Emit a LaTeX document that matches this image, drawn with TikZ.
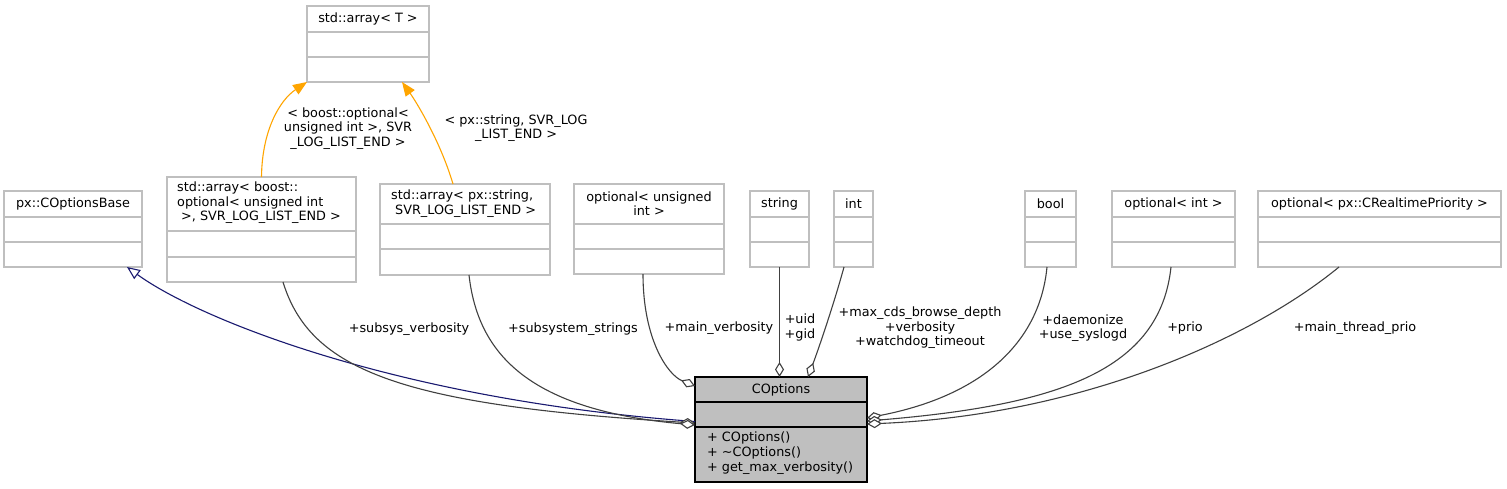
\documentclass[tikz,border=0pt]{standalone}
\usepackage{fontspec}
\setmainfont{DejaVu Sans}
\usetikzlibrary{arrows.meta}
\definecolor{boxgray}{HTML}{BFBFBF}
\definecolor{edgegray}{HTML}{404040}
\definecolor{navyblue}{HTML}{191970}
\definecolor{tmplorange}{HTML}{FFA500}
\newcommand\fsz{\fontsize{12.8}{14.5}\selectfont}
\newcommand\umlclass[8]{%
  \node[#8, minimum width=#4pt, minimum height=#5pt] (#1) at (#2,#3) {};
  \draw[#8] (#1.north west) ++(0,#6) -- ++(#4,0);
  \draw[#8] (#1.north west) ++(0,#7) -- ++(#4,0);
}
\begin{document}
\begin{tikzpicture}[x=1pt,y=-1pt,
  cls/.style={draw=boxgray, fill=white, line width=1.3pt, rectangle, inner sep=0pt, outer sep=0pt},
  mainc/.style={draw=black, fill=boxgray, line width=1.3pt, rectangle, inner sep=0pt, outer sep=0pt},
  ttl/.style={inner sep=0pt, font=\fsz},
  lbl/.style={inner sep=0pt, font=\fsz, align=center},
  agg/.style={draw=edgegray, line width=1.1pt, -{Diamond[length=15pt,width=9pt,fill=white]}},
  inh/.style={draw=navyblue, line width=1.1pt, -{Triangle[length=13pt,width=11pt,fill=white]}},
  tmpl/.style={draw=tmplorange, line width=1.1pt, -{Triangle[length=14pt,width=11pt]}}]
\fill[white] (0,0) rectangle (1507,488);
\useasboundingbox (0,0) rectangle (1507,488);

% class boxes
\umlclass{arrT}{368}{44}{122}{76}{26}{51}{cls}
\umlclass{base}{73}{229}{138}{76}{26}{51}{cls}
\umlclass{boostarr}{261.5}{229.5}{189}{105}{54}{80}{cls}
\umlclass{strarr}{465}{229.5}{170}{91}{40}{65}{cls}
\umlclass{optu}{649}{229}{150}{90}{40}{65}{cls}
\umlclass{str}{779.5}{229}{59}{76}{26}{51}{cls}
\umlclass{intbox}{853.5}{229}{39}{76}{26}{51}{cls}
\umlclass{boolb}{1050.5}{229}{51}{76}{26}{51}{cls}
\umlclass{opti}{1173.5}{229}{123}{76}{26}{51}{cls}
\umlclass{optrt}{1379.5}{229}{243}{76}{26}{51}{cls}
\umlclass{copt}{781}{429.5}{172}{105}{25}{50}{mainc}

% titles
\node[ttl] (arrT-t) at (368,19) {std::array< T >};
\node[ttl] (base-t) at (73,204) {px::COptionsBase};
\node[ttl, anchor=west, align=left] (boostarr-t) at (177,203) {std::array< boost::\\optional< unsigned int\\\hspace*{4pt}>, SVR\_LOG\_LIST\_END >};
\node[ttl, anchor=west, align=left] (strarr-t) at (391,203.5) {std::array< px::string,\\\hspace*{4pt}SVR\_LOG\_LIST\_END >};
\node[ttl, align=center] (optu-t) at (649,203.5) {optional< unsigned\\int >};
\node[ttl] (str-t) at (779.5,204) {string};
\node[ttl] (intbox-t) at (853.5,204) {int};
\node[ttl] (boolb-t) at (1050.5,204) {bool};
\node[ttl] (opti-t) at (1173.5,204) {optional< int >};
\node[ttl] (optrt-t) at (1379.5,204) {optional< px::CRealtimePriority >};
\node[ttl] (copt-t) at (781,389.5) {COptions};
\node[inner sep=0pt, anchor=west, align=left, font=\fontsize{12.8}{15}\selectfont] (copt-m) at (707,453) {+ COptions()\\+ \textasciitilde COptions()\\+ get\_max\_verbosity()};

% connectors
\draw[inh] ([yshift=8pt]copt.west) .. controls (400,400) and (200,320) .. ([xshift=54pt]base.south);
\draw[agg] ([xshift=21.5pt]boostarr.south) .. controls (310,370) and (400,405) .. ([yshift=6.5pt]copt.west);
\draw[agg] ([xshift=4pt]strarr.south) .. controls (478,355) and (530,410) .. ([yshift=4.5pt]copt.west);
\draw[agg] ([xshift=-6pt]optu.south) .. controls (643,340) and (668,375) .. ([yshift=-9pt]copt.north west);
\draw[agg] (str.south) -- (str.south |- copt.north);
\draw[agg] ([xshift=-9.5pt]intbox.south) .. controls (835,300) and (820,345) .. ([xshift=27pt]copt.north);
\draw[agg] ([xshift=-3.5pt]boolb.south) .. controls (1040,340) and (985,395) .. ([yshift=11.5pt]copt.east);
\draw[agg] ([xshift=-2.5pt]opti.south) .. controls (1160,370) and (1060,405) .. ([yshift=8.5pt]copt.east);
\draw[agg] ([xshift=-40.5pt]optrt.south) .. controls (1250,340) and (1080,415) .. ([yshift=5.5pt]copt.east);
\draw[tmpl] (boostarr.north) .. controls (262,130) and (280,100) .. (arrT.south west);
\draw[tmpl] ([xshift=-12pt]strarr.north) .. controls (440,140) and (415,100) .. ([xshift=34pt]arrT.south);

% connector labels
\node[lbl] (lA) at (348,128.5) {< boost::optional<\\unsigned int >, SVR\\\_LOG\_LIST\_END >};
\node[lbl] (lB) at (516,128) {< px::string, SVR\_LOG\\\_LIST\_END >};
\node[lbl] (lC) at (409,329) {+subsys\_verbosity};
\node[lbl] (lD) at (573,329) {+subsystem\_strings};
\node[lbl] (lE) at (719,328) {+main\_verbosity};
\node[lbl] (lF) at (800,327.5) {+uid\\+gid};
\node[lbl] (lG) at (920,328) {+max\_cds\_browse\_depth\\+verbosity\\+watchdog\_timeout};
\node[lbl] (lH) at (1083,328) {+daemonize\\+use\_syslogd};
\node[lbl] (lI) at (1185,328) {+prio};
\node[lbl] (lJ) at (1355,328) {+main\_thread\_prio};
\end{tikzpicture}
\end{document}
